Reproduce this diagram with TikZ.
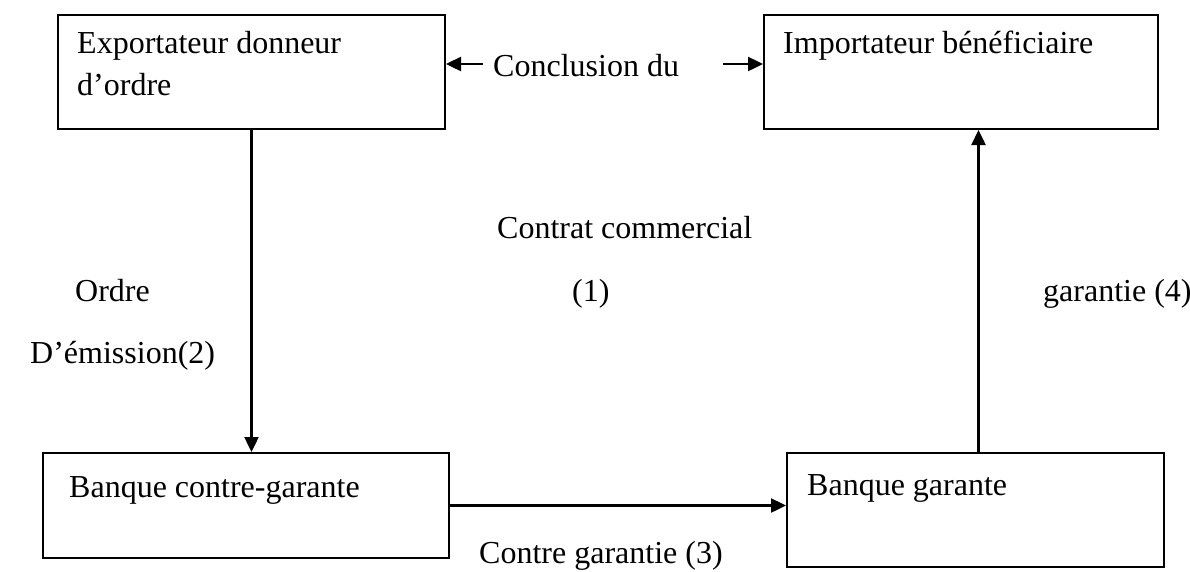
\documentclass[tikz,border=0pt]{standalone}
\usepackage{fontspec}
\setmainfont{Liberation Serif}
\usetikzlibrary{arrows.meta}
\tikzset{
  every node/.style={font=\fontsize{32}{42}\selectfont},
  box/.style={draw, line width=2pt, rectangle, inner sep=0pt, anchor=north west},
  txt/.style={inner sep=0pt, anchor=base west},
  arr/.style={line width=2.4pt, -{Triangle[length=15pt,width=14pt]}}
}
\begin{document}
\begin{tikzpicture}[x=1pt,y=-1pt]
\useasboundingbox (0,0) rectangle (1190,571);
\node[box, minimum width=387pt, minimum height=114pt] (exp) at (57,14) {};
\node[box, minimum width=394pt, minimum height=114pt] (imp) at (763,14) {};
\node[box, minimum width=406pt, minimum height=105pt] (bcg) at (42,452) {};
\node[box, minimum width=377pt, minimum height=114pt] (bg) at (786,452) {};

\node[txt] (t1) at (77,53) {Exportateur donneur};
\node[txt] (t1b) at (77,95) {d’ordre};
\node[txt] (t2) at (783,53) {Importateur bénéficiaire};
\node[txt] (t3) at (69,497) {Banque contre-garante};
\node[txt] (t4) at (807,495) {Banque garante};

\node[txt] (concl) at (493,76) {Conclusion du};
\node[txt] (contrat) at (497,238) {Contrat commercial};
\node[txt] (ordre) at (75,301) {Ordre};
\node[txt] (un) at (572,301) {(1)};
\node[txt] (gar4) at (1043,301) {garantie (4)};
\node[txt] (emis) at (30,363) {D’émission(2)};
\node[txt] (cg3) at (479,563) {Contre garantie (3)};

\coordinate (cl) at (483,64);
\coordinate (cr) at (723,64);
\draw[arr] (cl) -- (cl -| exp.east);
\draw[arr] (cr) -- (cr -| imp.west);
\draw[arr] (exp.south) -- (exp.south |- bcg.north);
\draw[arr] ([xshift=3pt]bg.north) -- ([xshift=3pt]bg.north |- imp.south);
\draw[arr] (bcg.east) -- (bcg.east -| bg.west);
\end{tikzpicture}
\end{document}
